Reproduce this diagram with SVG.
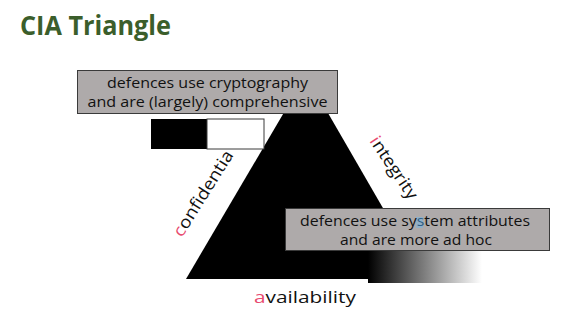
<svg xmlns="http://www.w3.org/2000/svg" width="569" height="314" viewBox="0 0 569 314">
  <style>
    .title { font-family: "Open Sans", "Liberation Sans", sans-serif; font-weight: bold; font-size: 26px; fill: #3b5e2b; }
    .lbl { font-family: "Open Sans", "Liberation Sans", sans-serif; font-size: 15px; fill: #111111; }
    .edge { font-family: "Open Sans", "Liberation Sans", sans-serif; font-size: 17px; fill: #111111; }
    .hl { fill: #e84a6f; }
    .box { fill: #aeaaaa; stroke: #3a3a3a; stroke-width: 1; }
  </style>
  <defs>
    <linearGradient id="fade" x1="0" y1="0" x2="1" y2="0">
      <stop offset="0" stop-color="#000000"/>
      <stop offset="1" stop-color="#ffffff"/>
    </linearGradient>
  </defs>

  <rect width="569" height="314" fill="#ffffff"/>

  <text class="title" x="20" y="35" textLength="151" lengthAdjust="spacingAndGlyphs">CIA Triangle</text>

  <!-- triangle body -->
  <g id="triangle">
    <polygon points="306,75 186,279 424,279" fill="#000000"/>
    <rect x="368" y="251" width="114" height="32" fill="url(#fade)"/>
  </g>

  <!-- black / white bar -->
  <g id="bar">
    <rect x="151" y="119" width="56" height="30" fill="#000000"/>
    <rect x="207" y="119" width="57" height="30" fill="#ffffff" stroke="#3a3a3a" stroke-width="1"/>
  </g>

  <!-- edge labels -->
  <g id="confidentiality">
    <text class="edge" transform="translate(182,238) rotate(-58)" textLength="98" lengthAdjust="spacingAndGlyphs"><tspan class="hl">c</tspan>onfidentia</text>
  </g>
  <g id="integrity">
    <text class="edge" transform="translate(369,141) rotate(56)" textLength="72" lengthAdjust="spacingAndGlyphs"><tspan class="hl">i</tspan>ntegrity</text>
  </g>
  <g id="availability">
    <text class="edge" x="254" y="303" textLength="102" lengthAdjust="spacingAndGlyphs"><tspan class="hl">a</tspan>vailability</text>
  </g>

  <!-- callout boxes -->
  <g id="crypto-box">
    <rect class="box" x="77.5" y="70.5" width="260" height="43"/>
    <text class="lbl" x="207.5" y="88" text-anchor="middle" textLength="201" lengthAdjust="spacingAndGlyphs">defences use cryptography</text>
    <text class="lbl" x="207.5" y="107" text-anchor="middle" textLength="240" lengthAdjust="spacingAndGlyphs">and are (largely) comprehensive</text>
  </g>
  <g id="attribute-box">
    <rect class="box" x="285.5" y="208.5" width="264" height="42"/>
    <rect x="416" y="217" width="7" height="11" fill="#8fb0c8"/>
    <text class="lbl" x="415" y="226" text-anchor="middle" textLength="230" lengthAdjust="spacingAndGlyphs">defences use sy<tspan fill="#2f5f86">s</tspan>tem attributes</text>
    <text class="lbl" x="416" y="245" text-anchor="middle" textLength="152" lengthAdjust="spacingAndGlyphs">and are more ad hoc</text>
  </g>
</svg>
